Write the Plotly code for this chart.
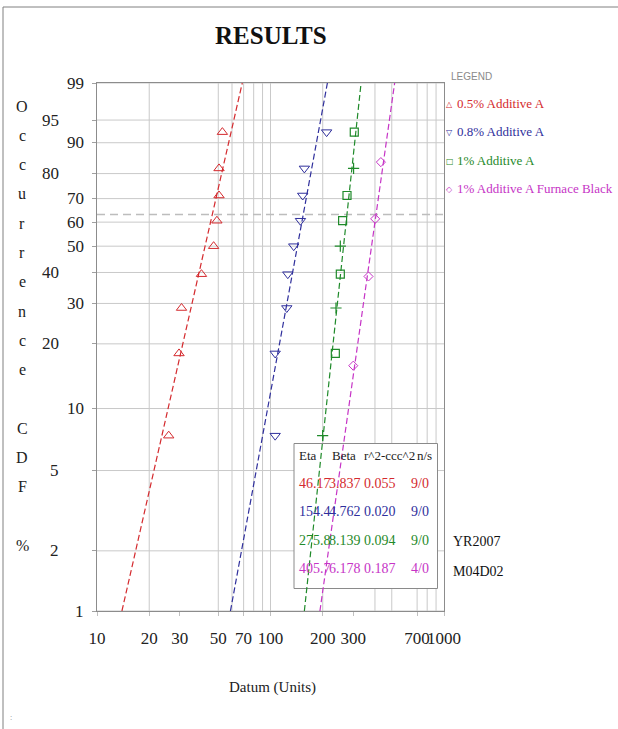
import numpy as np
import plotly.graph_objects as go

# ---------------- data ----------------
series_names = ["0.5% Additive A", "0.8% Additive A", "1% Additive A", "1% Additive A Furnace Black"]
series_colors = ["#d42a2e", "#2f2f9c", "#1f8a2a", "#c634c6"]
eta = [46.17, 154.4, 275.8, 405.7]
beta = [3.837, 4.762, 8.139, 6.178]
eta_txt = ["46.17", "154.4", "275.8", "405.7"]
beta_txt = ["3.837", "4.762", "8.139", "6.178"]
r2_ccc2 = ["0.055", "0.020", "0.094", "0.187"]
n_s = ["9/0", "9/0", "9/0", "4/0"]

rank9 = [7.4, 18.1, 28.7, 39.4, 50.0, 60.6, 71.3, 81.9, 92.6]   # CDF %
rank4 = [15.9, 38.6, 61.4, 84.1]

red_x = [25.9, 29.7, 30.7, 40.0, 47.0, 49.1, 50.5, 50.5, 52.8]
blue_x = [106.4, 106.4, 124.1, 125.8, 136.1, 148.8, 153.3, 156.8, 210.6]
green_x = [199.8, 236.4, 238.5, 252.6, 252.6, 260.4, 276.0, 301.2, 304.0]
green_square = [False, True, False, True, False, True, True, False, True]
magenta_x = [299.9, 367.2, 401.2, 432.6]

y_ticks_pct = [1, 2, 5, 10, 20, 30, 40, 50, 60, 70, 80, 90, 95, 99]
y_left_col = [2, 5, 20, 40, 80, 95]
x_tick_vals = [10, 20, 30, 50, 70, 100, 200, 300, 700, 1000]
x_tick_text = ["10", "20", "30", "50", "70", "100", "200", "300", "700", "1000"]
x_grid_vals = [20, 50, 60, 70, 80, 90, 100, 200, 400, 500, 700, 800, 900]

ylabel_letters = ["O", "c", "c", "u", "r", "r", "e", "n", "c", "e", "", "C", "D", "F", "", "%"]

# ---------------- geometry ----------------
W, H = 618, 729
L, R, T, B = 97, 444, 83, 611
SERIF = "Liberation Serif, Times New Roman, serif"


def px(x):
    return (x - L) / (R - L)


def py(y):
    return (B - y) / (B - T)


def wb(p):
    p = np.asarray(p, dtype=float) / 100.0
    return np.log(-np.log(1.0 - p))


y_lo, y_hi = float(wb(1)), float(wb(99))

fig = go.Figure()

# fitted Weibull lines
for k in range(4):
    yy = wb([1, 99])
    xx = eta[k] * np.exp(yy / beta[k])
    fig.add_trace(go.Scatter(x=xx, y=yy, mode="lines", showlegend=False,
                             line=dict(color=series_colors[k], width=1.2, dash="6px,3px"),
                             hoverinfo="skip"))

# data points
fig.add_trace(go.Scatter(x=red_x, y=wb(rank9), mode="markers", showlegend=False,
                         marker=dict(symbol="triangle-up-open", size=9, color=series_colors[0],
                                     line=dict(width=1))))
fig.add_trace(go.Scatter(x=blue_x, y=wb(rank9), mode="markers", showlegend=False,
                         marker=dict(symbol="triangle-down-open", size=9, color=series_colors[1],
                                     line=dict(width=1))))
gx_sq = [x for x, s in zip(green_x, green_square) if s]
gy_sq = [y for y, s in zip(rank9, green_square) if s]
gx_cr = [x for x, s in zip(green_x, green_square) if not s]
gy_cr = [y for y, s in zip(rank9, green_square) if not s]
fig.add_trace(go.Scatter(x=gx_sq, y=wb(gy_sq), mode="markers", showlegend=False,
                         marker=dict(symbol="square-open", size=8, color=series_colors[2],
                                     line=dict(width=1.2))))
fig.add_trace(go.Scatter(x=gx_cr, y=wb(gy_cr), mode="markers", showlegend=False,
                         marker=dict(symbol="cross-thin-open", size=8, color=series_colors[2],
                                     line=dict(width=1.2))))
fig.add_trace(go.Scatter(x=magenta_x, y=wb(rank4), mode="markers", showlegend=False,
                         marker=dict(symbol="diamond-open", size=7, color=series_colors[3],
                                     line=dict(width=1))))

shapes = []
# page frame
shapes.append(dict(type="line", xref="paper", yref="paper", x0=px(3), x1=px(618), y0=py(7), y1=py(7),
                   line=dict(color="#808080", width=1), layer="below"))
shapes.append(dict(type="line", xref="paper", yref="paper", x0=px(3), x1=px(3), y0=py(7), y1=py(729),
                   line=dict(color="#808080", width=1), layer="below"))
# horizontal grid
for p in y_ticks_pct:
    shapes.append(dict(type="line", xref="paper", yref="y", x0=0, x1=1, y0=float(wb(p)), y1=float(wb(p)),
                       line=dict(color="#c9c9c9", width=1), layer="below"))
# vertical grid (positions from the log axis range 1..3)
for v in x_grid_vals:
    xp = (np.log10(v) - 1.0) / 2.0
    shapes.append(dict(type="line", xref="paper", yref="paper", x0=xp, x1=xp, y0=0, y1=1,
                       line=dict(color="#c9c9c9", width=1), layer="below"))
# 63.2% characteristic line
shapes.append(dict(type="line", xref="paper", yref="y", x0=0, x1=1, y0=0, y1=0,
                   line=dict(color="#bdbdbd", width=1.5, dash="8px,5px"), layer="below"))
# statistics box
shapes.append(dict(type="rect", xref="paper", yref="paper", x0=px(294), x1=px(437.5), y0=py(588.5), y1=py(443.5),
                   fillcolor="white", line=dict(color="#8a8a8a", width=1), layer="below"))

ann = []


def note(text, x, y, size, color, family=SERIF, xanchor="center", yref="paper"):
    ann.append(dict(text=text, xref="paper", yref=yref, x=px(x),
                    y=py(y) if yref == "paper" else y, xanchor=xanchor, yanchor="middle",
                    showarrow=False, font=dict(family=family, size=size, color=color)))


# title
note("<b>RESULTS</b>", 271, 35, 25, "#111111")
# y label stacked letters
for i, ch in enumerate(ylabel_letters):
    if ch:
        note(ch, 22, 106 + 29.3 * i, 16, "#222222")
# y tick labels (two columns)
for p in y_ticks_pct:
    xr = 61 if p in y_left_col else 86
    note(str(p), xr, float(wb(p)), 17, "#222222", xanchor="right", yref="y")
# x title
note("Datum (Units)", 272, 687, 15, "#222222")
# legend
note("LEGEND", 449, 77, 10, "#8a8a8a", family="Liberation Sans, Arial, sans-serif", xanchor="left")
leg_sym = ["\u25b3", "\u25bd", "\u25a1", "\u25c7"]
leg_y = [103.5, 131.5, 160, 188.5]
for k in range(4):
    note(leg_sym[k], 449.5, leg_y[k] + 1, 8, series_colors[k], family="DejaVu Sans")
    note(series_names[k], 455, leg_y[k], 13, series_colors[k], xanchor="left")
# stats table
hdr_y = 455
for txt, xl in [("Eta", 296.5), ("Beta", 330), ("r^2-ccc^2", 361.5), ("n/s", 415)]:
    note(txt, xl, hdr_y, 13, "#222222", xanchor="left")
row_y = [483.5, 511.8, 540, 568.3]
for k in range(4):
    c = series_colors[k]
    for txt, xl in [(eta_txt[k], 296.5), (beta_txt[k], 327), (r2_ccc2[k], 361.5)]:
        note(txt, xl, row_y[k], 14, c, xanchor="left")
    note(n_s[k], 430.5, row_y[k], 14, c, xanchor="right")
# side notes
note("YR2007", 451, 541.5, 14, "#111111", xanchor="left")
note("M04D02", 451, 571, 14, "#111111", xanchor="left")
note(":", 11, 717, 8, "#888888")

fig.update_layout(
    width=W, height=H,
    margin=dict(l=L, r=W - R, t=T, b=H - B, pad=0),
    paper_bgcolor="white", plot_bgcolor="white",
    showlegend=False,
    shapes=shapes, annotations=ann,
    xaxis=dict(type="log", range=[1, 3], tickvals=x_tick_vals, ticktext=x_tick_text, tickangle=0,
               showgrid=False, zeroline=False, showline=True, mirror=True, linecolor="#8c8c8c", linewidth=1,
               ticks="outside", ticklen=4, tickcolor="#c0c0c0", ticklabelstandoff=8,
               tickfont=dict(family=SERIF, size=17, color="#222222")),
    yaxis=dict(range=[y_lo, y_hi], tickvals=[float(v) for v in wb(y_ticks_pct)], showticklabels=False,
               showgrid=False, zeroline=False, showline=True, mirror=True, linecolor="#8c8c8c", linewidth=1,
               ticks="outside", ticklen=4, tickcolor="#a0a0a0"),
)

fig.write_html("out.html", config={"displayModeBar": False},
               post_script="document.body.style.margin='0';document.body.style.overflow='hidden';")
